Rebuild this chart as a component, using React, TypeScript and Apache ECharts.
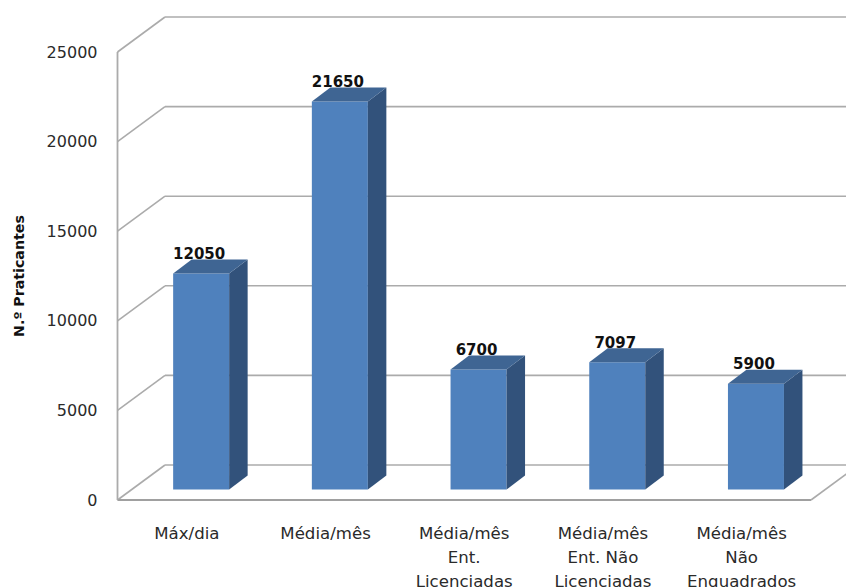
import React, { useEffect, useRef } from "react";
import * as echarts from "echarts";

const categories = [
  "Máx/dia",
  "Média/mês",
  "Média/mês\nEnt.\nLicenciadas",
  "Média/mês\nEnt. Não\nLicenciadas",
  "Média/mês\nNão\nEnquadrados",
];
const values = [12050, 21650, 6700, 7097, 5900];
const ticks = [0, 5000, 10000, 15000, 20000, 25000];
const yTitle = "N.º Praticantes";

const FRONT = "#4F81BD";
const SIDE = "#32527B";
const TOP = "#3F6593";
const WALL = "#ABABAB";

const DX = 47.5;
const DY = 35;

function wallItem(params: any, api: any) {
  const cs = params.coordSys;
  const v = api.value(1);
  const y = api.coord([0, v])[1];
  const left = cs.x;
  const right = cs.x + cs.width;
  const shape = { fill: "none", stroke: WALL, lineWidth: 1.6 };
  const children: any[] = [
    { type: "line", shape: { x1: left, y1: y, x2: left + DX, y2: y - DY }, style: shape },
    { type: "line", shape: { x1: left + DX, y1: y - DY, x2: right + DX, y2: y - DY }, style: shape },
  ];
  if (v === 0) {
    children.push(
      { type: "line", shape: { x1: left, y1: y, x2: right, y2: y }, style: { ...shape, lineWidth: 1.8, stroke: "#A0A0A0" } },
      { type: "line", shape: { x1: right, y1: y, x2: right + DX, y2: y - DY }, style: shape },
      { type: "line", shape: { x1: left, y1: y, x2: left, y2: cs.y }, style: { ...shape, lineWidth: 1.8 } },
    );
  }
  return { type: "group", children };
}

function barItem(_params: any, api: any) {
  const top = api.coord([api.value(0), api.value(1)]);
  const base = api.coord([api.value(0), 0]);
  const w = 56;
  const sx = 18.5;
  const sy = 14;
  const x0 = top[0] + 14.3 - w / 2;
  const x1 = x0 + w;
  const yB = base[1] - 10.5;
  const yT = top[1] - 10.5;
  return {
    type: "group",
    children: [
      { type: "rect", shape: { x: x0, y: yT, width: w, height: yB - yT }, style: { fill: FRONT } },
      {
        type: "polygon",
        shape: { points: [[x1, yT], [x1 + sx, yT - sy], [x1 + sx, yB - sy], [x1, yB]] },
        style: { fill: SIDE },
      },
      {
        type: "polygon",
        shape: { points: [[x0, yT], [x0 + sx, yT - sy], [x1 + sx, yT - sy], [x1, yT]] },
        style: { fill: TOP },
      },
      {
        type: "text",
        x: x0 + w / 2 - 2,
        y: yT - 19.5,
        style: {
          text: String(api.value(1)),
          fill: "#111111",
          font: "bold 15px 'DejaVu Sans'",
          align: "center",
          verticalAlign: "middle",
        },
      },
    ],
  };
}

export default function App() {
  const ref = useRef<HTMLDivElement>(null);
  useEffect(() => {
    const chart = echarts.init(ref.current!, null, { renderer: "svg" });
    chart.setOption({
      animation: false,
      backgroundColor: "#FFFFFF",
      grid: { left: 117.5, right: 35, top: 52, bottom: 87, outerBoundsMode: "none" },
      xAxis: {
        type: "category",
        data: categories,
        axisLine: { show: false },
        axisTick: { show: false },
        axisLabel: {
          interval: 0,
          margin: 21,
          lineHeight: 24,
          fontFamily: "DejaVu Sans",
          fontSize: 16.6,
          color: "#2A2A2A",
          align: "center",
        },
      },
      yAxis: {
        type: "value",
        min: 0,
        max: 25000,
        interval: 5000,
        name: yTitle,
        nameLocation: "middle",
        nameRotate: 90,
        nameGap: 92,
        nameTextStyle: { fontFamily: "DejaVu Sans", fontWeight: "bold", fontSize: 14.2, color: "#111111" },
        axisLine: { show: false },
        axisTick: { show: false },
        splitLine: { show: false },
        axisLabel: {
          margin: 20,
          fontFamily: "DejaVu Sans",
          fontSize: 16,
          color: "#2A2A2A",
          padding: [3, 0, 0, 0],
          formatter: (v: number) => String(v),
        },
      },
      series: [
        {
          type: "custom",
          clip: false,
          silent: true,
          renderItem: wallItem,
          encode: { x: 0, y: 1 },
          data: ticks.map((t) => [0, t]),
          z: 1,
        },
        {
          type: "custom",
          clip: false,
          silent: true,
          renderItem: barItem,
          encode: { x: 0, y: 1 },
          data: values.map((v, i) => [i, v]),
          z: 2,
        },
      ],
    });
    return () => chart.dispose();
  }, []);
  return <div ref={ref} style={{ position: "fixed", left: 0, top: 0, width: 846, height: 587 }} />;
}
